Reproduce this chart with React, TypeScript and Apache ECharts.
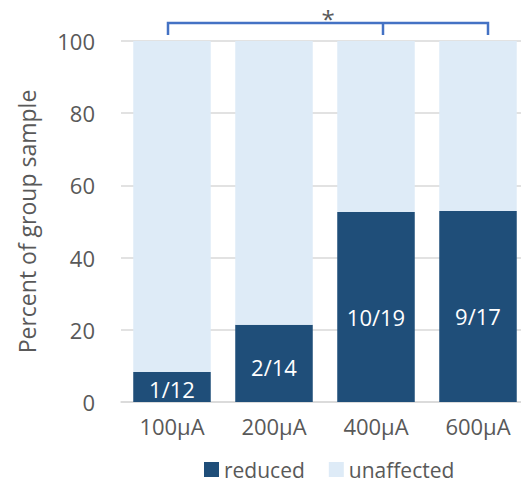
import React, { useEffect, useRef } from "react";
import * as echarts from "echarts";

const categories = ["100µA", "200µA", "400µA", "600µA"];
const reduced = [8.3, 21.4, 52.6, 52.9];
const unaffected = [91.7, 78.6, 47.4, 47.1];
const fractionLabels = ["1/12", "2/14", "10/19", "9/17"];
const yTicks = [0, 20, 40, 60, 80, 100];
const bracketFrom = 0;
const bracketMid = 2;
const bracketTo = 3;
const significance = "*";

const FONT = "Open Sans";
const GRAY = "#595959";

export default function App() {
  const ref = useRef<HTMLDivElement>(null);
  useEffect(() => {
    if (!ref.current) return;
    const chart = echarts.init(ref.current, null, { renderer: "svg" });
    chart.setOption({
      animation: false,
      grid: { left: 121, right: 1, top: 41, bottom: 82 },
      legend: {
        data: ["reduced", "unaffected"],
        left: 204,
        top: 459,
        padding: 0,
        icon: "rect",
        itemWidth: 15,
        itemHeight: 15,
        itemGap: 24,
        textStyle: { fontFamily: FONT, fontSize: 21, color: GRAY },
      },
      xAxis: {
        type: "category",
        data: categories,
        axisLine: { lineStyle: { color: "#d9d9d9", width: 1.5 } },
        axisTick: { show: false },
        axisLabel: { fontFamily: FONT, fontSize: 22, color: GRAY, margin: 13 },
      },
      yAxis: {
        type: "value",
        min: yTicks[0],
        max: yTicks[yTicks.length - 1],
        interval: yTicks[1] - yTicks[0],
        name: "Percent of group sample",
        nameLocation: "middle",
        nameGap: 83,
        nameTextStyle: { fontFamily: FONT, fontSize: 23, color: GRAY },
        axisLine: { show: false },
        axisTick: { show: false },
        axisLabel: { fontFamily: FONT, fontSize: 22, color: GRAY, margin: 26 },
        splitLine: { lineStyle: { color: "#d9d9d9", width: 1.5 } },
      },
      series: [
        {
          name: "reduced",
          type: "bar",
          stack: "total",
          data: reduced,
          barCategoryGap: "24%",
          itemStyle: { color: "#1f4e79" },
          label: {
            show: true,
            position: ["50%", "55%"],
            align: "center",
            verticalAlign: "middle",
            formatter: (p: any) => fractionLabels[p.dataIndex],
            fontFamily: FONT,
            fontSize: 22,
            color: "#ffffff",
          },
        },
        {
          name: "unaffected",
          type: "bar",
          stack: "total",
          data: unaffected,
          barCategoryGap: "24%",
          itemStyle: { color: "#deebf7" },
        },
      ],
    });

    const xa = chart.convertToPixel({ xAxisIndex: 0 }, categories[bracketFrom]) as number;
    const xm = chart.convertToPixel({ xAxisIndex: 0 }, categories[bracketMid]) as number;
    const xb = chart.convertToPixel({ xAxisIndex: 0 }, categories[bracketTo]) as number;
    const yTop = chart.convertToPixel({ yAxisIndex: 0 }, yTicks[yTicks.length - 1]) as number;
    const lineY = yTop - 18;
    const tickY = yTop - 6;
    const x1 = xa - 4;
    const x2 = xm + 7;
    const x3 = xb + 10;
    const blue = "#4472c4";
    chart.setOption({
      graphic: [
        {
          type: "polyline",
          shape: { points: [[x1, tickY], [x1, lineY], [x3, lineY], [x3, tickY]] },
          style: { stroke: blue, lineWidth: 2.5, fill: "none" },
        },
        {
          type: "line",
          shape: { x1: x2, y1: lineY, x2: x2, y2: tickY },
          style: { stroke: blue, lineWidth: 2.5 },
        },
        {
          type: "text",
          x: (x1 + x3) / 2,
          y: lineY - 5,
          style: {
            text: significance,
            fontFamily: FONT,
            fontSize: 24,
            fill: GRAY,
            align: "center",
            verticalAlign: "middle",
          },
        },
      ],
    });

    return () => chart.dispose();
  }, []);
  return (
    <div style={{ width: 521, height: 484, position: "absolute", left: 0, top: 0, overflow: "hidden" }}>
      <div ref={ref} style={{ width: 530, height: 484 }} />
    </div>
  );
}
